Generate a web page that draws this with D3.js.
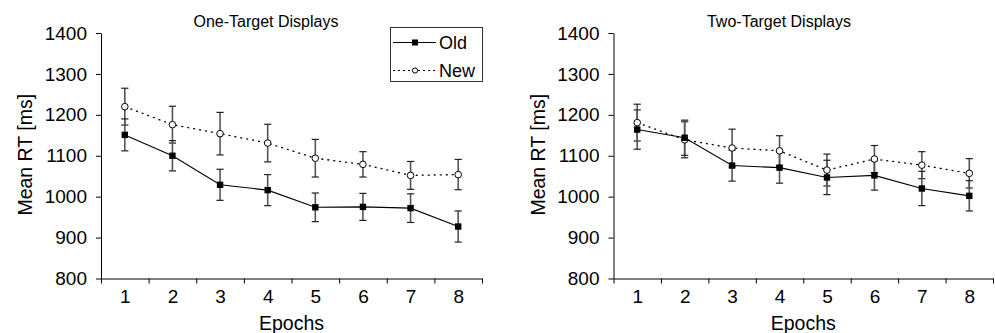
<!DOCTYPE html>
<html>
<head>
<meta charset="utf-8">
<script src="https://cdn.jsdelivr.net/npm/d3@7"></script>
<style>
  body { margin: 0; background: #fff; }
  svg { display: block; font-family: "Liberation Sans", Arial, sans-serif; }
  .axis path, .axis line { stroke: #000; stroke-width: 1; }
  .axis text { font-family: "Liberation Sans", Arial, sans-serif; font-size: 19px; fill: #000; }
</style>
</head>
<body>
<div id="chart"></div>
<script>
// data
const epochs = [1, 2, 3, 4, 5, 6, 7, 8];
const yTicks = [800, 900, 1000, 1100, 1200, 1300, 1400];

const oneOld = [1151, 1100, 1029, 1016, 974, 975, 972, 927];
const oneOldErr = [39, 37, 38, 38, 35, 33, 35, 38];
const oneNew = [1220, 1176, 1154, 1131, 1094, 1079, 1052, 1054];
const oneNewErr = [45, 45, 52, 46, 46, 31, 34, 37];

const twoOld = [1164, 1144, 1076, 1071, 1047, 1052, 1020, 1002];
const twoOldErr = [48, 43, 38, 38, 42, 36, 42, 37];
const twoNew = [1181, 1139, 1119, 1112, 1065, 1092, 1077, 1057];
const twoNewErr = [45, 44, 46, 37, 39, 33, 33, 36];

const svgWidth = 995, svgHeight = 333;

const svg = d3.select("#chart")
    .append("svg")
    .attr("width", svgWidth)
    .attr("height", svgHeight);

// draw one panel
function drawPanel(opts) {
    const { left, right, title, titleX, oldVals, oldErr, newVals, newErr } = opts;
    const top = 33, bottom = 278.5;

    const x = d3.scaleLinear().domain([0.5, 8.5]).range([left, right]);
    const y = d3.scaleLinear().domain([800, 1400]).range([bottom, top]);

    const g = svg.append("g");

    // y axis
    const yAxis = d3.axisLeft(y).tickValues(yTicks).tickSize(5).tickPadding(9)
        .tickSizeOuter(0).tickFormat(d3.format("d"));
    g.append("g")
        .attr("class", "axis")
        .attr("transform", `translate(${left},0)`)
        .call(yAxis);

    // x axis: tick marks at band edges
    const xEdges = d3.range(0.5, 9, 1);
    g.append("g")
        .attr("class", "axis")
        .attr("transform", `translate(0,${bottom})`)
        .call(d3.axisBottom(x).tickValues(xEdges).tickSize(5).tickSizeOuter(0).tickFormat(""));

    // x labels at centers
    const xLab = g.append("g")
        .attr("class", "axis")
        .attr("transform", `translate(0,${bottom})`)
        .call(d3.axisBottom(x).tickValues(epochs).tickSize(0).tickPadding(11).tickFormat(d3.format("d")));
    xLab.select(".domain").remove();

    // axis titles
    g.append("text")
        .attr("x", (left + right) / 2)
        .attr("y", 330)
        .attr("text-anchor", "middle")
        .style("font-size", "19.5px")
        .text("Epochs");

    g.append("text")
        .attr("transform", `translate(${left - 69},${(top + bottom) / 2 - 1}) rotate(-90)`)
        .attr("text-anchor", "middle")
        .style("font-size", "19.5px")
        .text("Mean RT [ms]");

    g.append("text")
        .attr("x", titleX)
        .attr("y", 27)
        .attr("text-anchor", "middle")
        .style("font-size", "16px")
        .text(title);

    const series = [
        { vals: newVals, err: newErr, dash: "2,4", marker: "circle" },
        { vals: oldVals, err: oldErr, dash: null, marker: "square" }
    ];

    // error bars
    series.forEach(s => {
        const eb = g.append("g");
        epochs.forEach((e, i) => {
            const cx = x(e), y1 = y(s.vals[i] + s.err[i]), y2 = y(s.vals[i] - s.err[i]);
            eb.append("line")
                .attr("x1", cx).attr("x2", cx).attr("y1", y1).attr("y2", y2)
                .attr("stroke", "#555").attr("stroke-width", 1.6);
            [y1, y2].forEach(yy => {
                eb.append("line")
                    .attr("x1", cx - 3.6).attr("x2", cx + 3.6).attr("y1", yy).attr("y2", yy)
                    .attr("stroke", "#222").attr("stroke-width", 1.2);
            });
        });
    });

    // lines
    const line = d3.line().x((d, i) => x(epochs[i])).y(d => y(d));
    series.forEach(s => {
        g.append("path")
            .datum(s.vals)
            .attr("d", line)
            .attr("fill", "none")
            .attr("stroke", "#000")
            .attr("stroke-width", s.dash ? 1.3 : 1.1)
            .attr("stroke-dasharray", s.dash);
    });

    // markers
    g.selectAll(".pt-new")
        .data(newVals)
        .enter()
        .append("circle")
        .attr("cx", (d, i) => x(epochs[i]))
        .attr("cy", d => y(d))
        .attr("r", 3.3)
        .attr("fill", "#fff")
        .attr("stroke", "#000")
        .attr("stroke-width", 1);

    g.selectAll(".pt-old")
        .data(oldVals)
        .enter()
        .append("rect")
        .attr("x", (d, i) => x(epochs[i]) - 3.2)
        .attr("y", d => y(d) - 3.2)
        .attr("width", 6.4)
        .attr("height", 6.4)
        .attr("fill", "#000");
}

drawPanel({
    left: 101, right: 482, title: "One-Target Displays", titleX: 266,
    oldVals: oneOld, oldErr: oneOldErr, newVals: oneNew, newErr: oneNewErr
});

drawPanel({
    left: 613.5, right: 993, title: "Two-Target Displays", titleX: 779,
    oldVals: twoOld, oldErr: twoOldErr, newVals: twoNew, newErr: twoNewErr
});

// legend
const legend = svg.append("g");
legend.append("rect")
    .attr("x", 390.5).attr("y", 27.5)
    .attr("width", 92).attr("height", 54)
    .attr("fill", "#fff").attr("stroke", "#333").attr("stroke-width", 1);

const legendItems = [
    { label: "Old", y: 42.5, dash: null },
    { label: "New", y: 70.5, dash: "2,3" }
];
legendItems.forEach(it => {
    legend.append("line")
        .attr("x1", 393).attr("x2", 436).attr("y1", it.y).attr("y2", it.y)
        .attr("stroke", "#000").attr("stroke-width", 1.1)
        .attr("stroke-dasharray", it.dash);
    if (it.dash) {
        legend.append("circle").attr("cx", 415).attr("cy", it.y).attr("r", 2.6)
            .attr("fill", "#fff").attr("stroke", "#000");
    } else {
        legend.append("rect").attr("x", 412).attr("y", it.y - 3).attr("width", 6).attr("height", 6)
            .attr("fill", "#000");
    }
    legend.append("text")
        .attr("x", 439).attr("y", it.y + 6.5)
        .style("font-size", "18px")
        .text(it.label);
});
</script>
</body>
</html>
